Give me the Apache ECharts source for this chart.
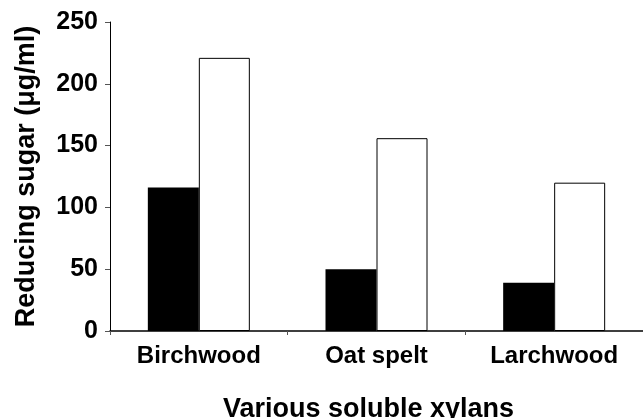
<!DOCTYPE html>
<html lang="en">
<head>
    <meta charset="UTF-8">
    <title>Reducing sugar</title>
    <style>
        html,body{
            margin: 0;
            height: 100%;
            background: #fff;
        }
        #main{
            width: 643px;
            height: 418px;
        }
    </style>
</head>
<body>
<div id="main"></div>
<script src="https://cdn.jsdelivr.net/npm/echarts@6/dist/echarts.min.js"></script>
<script>
    // 数据
    var categories = ['Birchwood', 'Oat spelt', 'Larchwood'];
    var blackValues = [116, 50, 39];
    var whiteValues = [221, 156, 120];
    var yTicks = [0, 50, 100, 150, 200, 250];

    var chart = echarts.init(document.getElementById('main'));
    var font = 'Liberation Sans, Arial, sans-serif';

    var option = {
        backgroundColor: '#fff',
        animation: false,
        grid: {
            left: 110,
            right: 0,
            top: 22,
            bottom: 87,
            outerBoundsMode: 'none'
        },
        xAxis: {
            type: 'category',
            data: categories,
            name: 'Various soluble xylans',
            nameLocation: 'middle',
            nameGap: 65,
            nameTextStyle: {
                fontFamily: font,
                fontWeight: 'bold',
                fontSize: 27,
                color: '#000',
                padding: [0, 16, 0, 0]
            },
            axisLine: {lineStyle: {color: '#000', width: 1.5}},
            axisTick: {show: true, length: 4, lineStyle: {color: '#555'}},
            axisLabel: {
                margin: 13,
                fontFamily: font,
                fontWeight: 'bold',
                fontSize: 24,
                color: '#000'
            }
        },
        yAxis: {
            type: 'value',
            min: yTicks[0],
            max: yTicks[yTicks.length - 1],
            interval: 50,
            name: 'Reducing sugar (μg/ml)',
            nameLocation: 'middle',
            nameGap: 70,
            nameTextStyle: {
                fontFamily: font,
                fontWeight: 'bold',
                fontSize: 27,
                color: '#000'
            },
            splitLine: {show: false},
            axisLine: {show: true, lineStyle: {color: '#000', width: 1}},
            axisTick: {show: true, length: 5, lineStyle: {color: '#555'}},
            axisLabel: {
                margin: 12,
                fontFamily: font,
                fontWeight: 'bold',
                fontSize: 25,
                color: '#000'
            }
        },
        series: [
            {
                name: 'black',
                type: 'bar',
                data: blackValues,
                barWidth: 51,
                barGap: 0,
                itemStyle: {color: '#000'}
            },
            {
                name: 'white',
                type: 'bar',
                data: whiteValues,
                barWidth: 51,
                barGap: 0,
                itemStyle: {color: '#fff', borderColor: '#000', borderWidth: 1}
            }
        ]
    };

    chart.setOption(option);
</script>
</body>
</html>
